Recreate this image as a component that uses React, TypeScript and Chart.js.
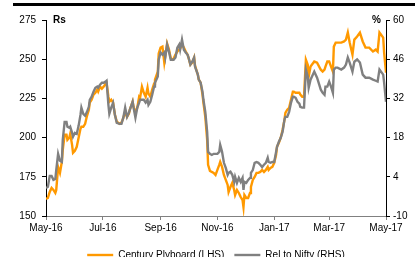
import React, { useEffect, useRef } from "react";
import { Chart, registerables } from "chart.js";

Chart.register(...registerables);

// Days since 1 May 2016
const dayOffsets = [
  0, 2, 4, 6, 8, 10, 11, 13, 15, 17,
  18, 20, 22, 23, 25, 26, 28, 29, 31, 33,
  35, 37, 38, 40, 42, 44, 46, 47, 49, 51,
  53, 55, 56, 58, 60, 62, 64, 65, 67, 68,
  70, 72, 74, 76, 79, 81, 83, 85, 87, 89,
  90, 93, 94, 96, 98, 100, 101, 103, 105, 107,
  109, 110, 112, 114, 116, 117, 120, 121, 123, 125,
  127, 128, 130, 132, 134, 136, 137, 139, 141, 143,
  144, 146, 148, 150, 152, 153, 155, 157, 159, 160,
  163, 164, 166, 168, 169, 171, 173, 174, 176, 178,
  180, 182, 184, 186, 187, 189, 191, 193, 195, 196,
  198, 200, 202, 203, 205, 207, 209, 211, 212, 213,
  215, 217, 219, 220, 222, 224, 226, 228, 230, 232,
  234, 236, 238, 239, 241, 243, 245, 247, 248, 250,
  252, 254, 256, 257, 259, 261, 263, 265, 266, 268,
  270, 272, 273, 275, 277, 279, 281, 282, 284, 288,
  291, 295, 297, 299, 300, 302, 304, 306, 308, 309,
  311, 313, 317, 320, 322, 324, 326, 329, 331, 334,
  337, 340, 343, 347, 351, 354, 356, 358, 362, 363, 365,
];

// Century Plyboard price (Rs, LHS)
const centuryPlyboard = [
  160.9, 161.5, 165.3, 167.9, 166.6, 164.7, 166.6, 181.3, 177.5, 184.5,
  192.2, 201.8, 201.8, 198.6, 199.9, 202.4, 195.4, 190.3, 191.6, 194.1,
  199.9, 205.6, 206.9, 206.9, 208.8, 213.9, 217.8, 222.3, 224.2, 227.4,
  228.6, 230.6, 229.3, 232.5, 231.2, 232.5, 234.4, 235.0, 226.1, 222.9,
  224.2, 222.3, 214.6, 210.1, 208.8, 209.5, 212.6, 216.5, 213.3, 215.2,
  217.8, 222.9, 219.7, 215.8, 219.1, 226.1, 225.4, 232.5, 228.6, 226.1,
  231.8, 228.0, 226.1, 230.6, 234.4, 237.0, 242.1, 253.6, 257.4, 258.0,
  247.8, 251.7, 260.0, 256.1, 250.4, 249.7, 250.4, 252.9, 254.9, 256.1,
  256.8, 259.3, 257.4, 254.9, 252.9, 251.0, 246.5, 247.8, 251.0, 245.9,
  240.1, 237.0, 235.0, 227.4, 222.3, 213.3, 198.6, 182.6, 178.8, 178.1,
  177.5, 176.2, 179.4, 182.6, 184.5, 181.3, 176.2, 173.0, 169.8, 165.3,
  168.5, 171.1, 166.6, 163.4, 166.6, 164.7, 162.1, 160.2, 155.7, 163.4,
  161.5, 161.5, 164.7, 168.5, 173.0, 174.9, 177.5, 177.5, 178.1, 179.4,
  178.1, 179.4, 181.3, 179.4, 180.7, 181.3, 183.9, 189.0, 194.1, 196.7,
  199.9, 205.0, 211.4, 215.8, 217.8, 219.0, 224.2, 229.3, 229.3, 228.6,
  228.6, 228.6, 227.4, 226.1, 226.1, 249.7, 246.5, 238.9, 245.3, 248.5,
  247.8, 243.3, 242.1, 243.3, 245.3, 248.5, 248.5, 245.3, 242.1, 258.0,
  260.6, 260.6, 260.6, 261.3, 262.5, 267.0, 260.6, 252.9, 262.5, 264.5,
  267.0, 261.3, 257.4, 257.4, 254.9, 256.1, 254.9, 267.0, 263.8, 254.2, 241.4,
];

// Relative to Nifty (%, RHS)
const relToNifty = [
  0.0, 0.4, 4.3, 4.3, 2.9, 3.2, 6.4, 12.2, 9.7, 9.3,
  17.2, 23.6, 23.6, 21.9, 21.5, 21.9, 19.7, 18.3, 19.7, 19.3,
  22.2, 26.1, 28.7, 26.5, 25.8, 27.2, 29.0, 31.5, 32.6, 34.4,
  35.8, 36.2, 35.8, 36.9, 37.6, 37.6, 38.0, 38.3, 29.7, 26.5,
  28.7, 30.4, 26.1, 23.3, 22.9, 22.9, 25.1, 28.7, 25.4, 26.9,
  27.9, 30.8, 28.7, 25.1, 28.7, 30.5, 31.5, 31.5, 31.5, 30.5,
  31.5, 29.7, 30.8, 33.3, 36.2, 37.6, 39.8, 45.8, 48.4, 47.6,
  48.4, 46.6, 51.2, 48.7, 45.8, 45.8, 45.8, 46.6, 50.1, 51.2,
  49.4, 53.0, 49.4, 48.4, 47.6, 46.6, 44.1, 45.1, 46.6, 43.3,
  40.5, 38.7, 37.6, 34.4, 31.5, 27.2, 20.1, 12.9, 12.2, 11.8,
  12.2, 12.2, 12.2, 12.9, 15.4, 12.9, 9.0, 7.2, 4.7, 5.4,
  5.8, 4.7, 2.2, 4.0, 1.8, 3.6, 2.2, 3.6, -0.7, 2.2,
  1.8, 2.9, 3.6, 5.4, 6.4, 9.0, 9.3, 9.0, 8.3, 7.5,
  8.3, 9.0, 10.8, 9.3, 9.0, 9.3, 9.3, 12.9, 14.7, 16.5,
  17.9, 20.1, 24.4, 25.4, 25.4, 27.2, 30.4, 32.6, 32.6, 32.2,
  30.8, 30.1, 29.0, 28.7, 28.7, 42.3, 39.8, 35.8, 38.7, 41.6,
  39.4, 35.1, 34.0, 33.3, 36.2, 36.2, 38.0, 36.2, 34.0, 42.3,
  43.0, 43.0, 42.3, 43.0, 44.1, 46.6, 44.8, 41.6, 45.1, 45.9,
  44.8, 40.5, 39.4, 39.4, 38.7, 38.3, 38.0, 42.3, 40.5, 37.6, 30.8,
];

const xTickDays = [0, 61, 123, 184, 245, 304, 365];
const xTickLabels = ["May-16", "Jul-16", "Sep-16", "Nov-16", "Jan-17", "Mar-17", "May-17"];
const leftTicks = [150, 175, 200, 225, 250, 275];
const rightTicks = [-10, 4, 18, 32, 46, 60];
const seriesNames = ["Century Plyboard (LHS)", "Rel to Nifty (RHS)"];

const FONT = '"Liberation Sans", Arial, sans-serif';
const ORANGE = "#FF9900";
const GREY = "#808080";

const unitLabels = {
  id: "unitLabels",
  afterDraw(chart: any) {
    const { ctx, chartArea } = chart;
    ctx.save();
    ctx.font = `bold 10px ${FONT}`;
    ctx.fillStyle = "#000";
    ctx.textBaseline = "middle";
    ctx.textAlign = "left";
    ctx.fillText("Rs", chartArea.left + 7, chartArea.top + 0.5);
    ctx.textAlign = "right";
    ctx.fillText("%", chartArea.right - 5, chartArea.top + 0.5);
    ctx.restore();
  },
};

export default function App() {
  const canvasRef = useRef<HTMLCanvasElement | null>(null);

  useEffect(() => {
    if (!canvasRef.current) return;
    const tickFont = { family: FONT, size: 10 };
    const chart = new Chart(canvasRef.current, {
      type: "line",
      data: {
        datasets: [
          {
            label: seriesNames[0],
            data: dayOffsets.map((d, i) => ({ x: d, y: centuryPlyboard[i] })),
            borderColor: ORANGE,
            backgroundColor: ORANGE,
            borderWidth: 2.4,
            pointRadius: 0,
            tension: 0,
            yAxisID: "yL",
            order: 1,
          },
          {
            label: seriesNames[1],
            data: dayOffsets.map((d, i) => ({ x: d, y: relToNifty[i] })),
            borderColor: GREY,
            backgroundColor: GREY,
            borderWidth: 2.4,
            pointRadius: 0,
            tension: 0,
            yAxisID: "yR",
            order: 0,
          },
        ],
      },
      options: {
        responsive: false,
        animation: false,
        layout: { padding: { top: 20, left: 0, right: 0, bottom: 0 } },
        plugins: {
          tooltip: { enabled: false },
          legend: {
            position: "bottom",
            fullSize: false,
            labels: {
              usePointStyle: true,
              pointStyle: "line",
              pointStyleWidth: 26,
              padding: 10,
              color: "#000",
              font: { family: FONT, size: 10 },
              sort: (a: any, b: any) => a.datasetIndex - b.datasetIndex,
            },
          },
        },
        scales: {
          x: {
            type: "linear",
            min: 0,
            max: 365,
            afterBuildTicks: (s: any) => {
              s.ticks = xTickDays.map((v) => ({ value: v }));
            },
            afterFit: (s: any) => {
              s.height = 24;
            },
            ticks: {
              autoSkip: false,
              maxRotation: 0,
              padding: 2,
              color: "#000",
              font: tickFont,
              callback: (_v: any, i: number) => xTickLabels[i],
            },
            grid: { display: true, drawOnChartArea: false, drawTicks: true, tickLength: 4, color: "#808080" },
            border: { display: true, color: "#808080", width: 1 },
          },
          yL: {
            type: "linear",
            position: "left",
            min: 150,
            max: 275,
            afterBuildTicks: (s: any) => {
              s.ticks = leftTicks.map((v) => ({ value: v }));
            },
            afterFit: (s: any) => {
              s.width = 46;
            },
            ticks: { padding: 6, color: "#000", font: tickFont },
            grid: { display: true, drawOnChartArea: false, drawTicks: true, tickLength: 4, color: "#000" },
            border: { display: true, color: "#000", width: 1 },
          },
          yR: {
            type: "linear",
            position: "right",
            min: -10,
            max: 60,
            afterBuildTicks: (s: any) => {
              s.ticks = rightTicks.map((v) => ({ value: v }));
            },
            afterFit: (s: any) => {
              s.width = 29;
            },
            ticks: { padding: 3, color: "#000", font: tickFont },
            grid: { display: true, drawOnChartArea: false, drawTicks: true, tickLength: 4, color: "#000" },
            border: { display: true, color: "#000", width: 1 },
          },
        },
      },
      plugins: [unitLabels],
    });
    return () => chart.destroy();
  }, []);

  return (
    <div
      style={{
        position: "fixed",
        left: 0,
        top: 0,
        width: 415,
        height: 257,
        overflow: "hidden",
        background: "#fff",
      }}
    >
      <div
        style={{
          position: "absolute",
          left: 13,
          right: 0,
          top: 3,
          height: 3,
          background: "#000",
        }}
      />
      <canvas
        ref={canvasRef}
        width={415}
        height={270}
        style={{ position: "absolute", left: 0, top: 0, width: 415, height: 270 }}
      />
    </div>
  );
}
